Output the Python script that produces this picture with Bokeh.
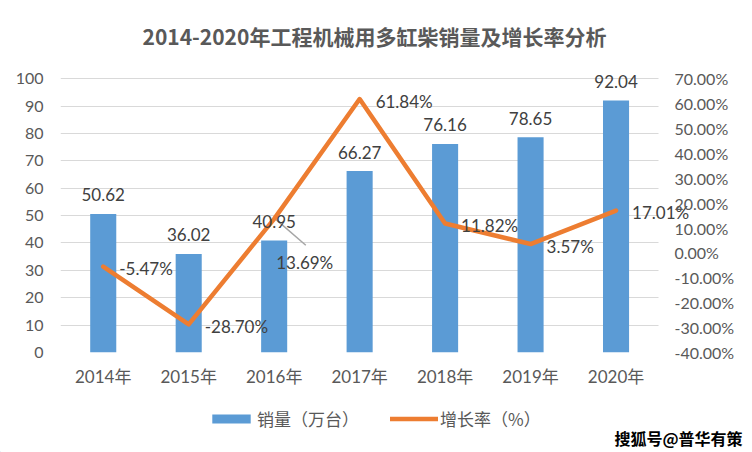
from bokeh.plotting import figure
from bokeh.layouts import column
from bokeh.models import (Range1d, LinearAxis, FixedTicker, PrintfTickFormatter, Grid, Plot,
                          ColumnDataSource, Legend, LegendItem, Label)
from bokeh.core.properties import value
from bokeh.embed import file_html
from bokeh.resources import INLINE

# ---- data ----
years = ["2014年", "2015年", "2016年", "2017年", "2018年", "2019年", "2020年"]
sales = [50.62, 36.02, 40.95, 66.27, 76.16, 78.65, 92.04]
growth = [-5.47, -28.70, 13.69, 61.84, 11.82, 3.57, 17.01]
sales_ticks = [0, 10, 20, 30, 40, 50, 60, 70, 80, 90, 100]
growth_ticks = [-40, -30, -20, -10, 0, 10, 20, 30, 40, 50, 60, 70]

title_text = "2014-2020年工程机械用多缸柴销量及增长率分析"
sales_name = "销量（万台）"
growth_name = "增长率（%）"
watermark_text = "搜狐号@普华有策"

# ---- styles ----
BLUE = "#5B9BD5"
ORANGE = "#ED7D31"
GRID = "#D9D9D9"
AXIS_TXT = "#595959"
LABEL_TXT = "#404040"
NUM_FONT = "Lato"
CJK_FONT = "Noto Sans CJK SC"
MIX_FONT = "Lato, Noto Sans CJK SC"

# label placement (screen px); one growth label was moved with a leader line
rate_dx_default, rate_dy_default = 16, 2
moved_year = "2016年"
moved_dx, moved_dy = 2, 44
leader_dx, leader_dy = 0.37, -10.6

n = len(years)
xs = [i + 0.5 for i in range(n)]           # category centres on a numeric axis
x_end = n + 0.5                            # room on the right for the last label
y_end = 103                                # room on top for the tallest label
pct_start = growth_ticks[0]
pct_per_unit = (growth_ticks[-1] - growth_ticks[0]) / (sales_ticks[-1] - sales_ticks[0])

bar_labels = ["%.2f" % v for v in sales]
rate_labels = ["%.2f%%" % v for v in growth]
rate_dx = [moved_dx if y == moved_year else rate_dx_default for y in years]
rate_dy = [moved_dy if y == moved_year else rate_dy_default for y in years]

src = ColumnDataSource(dict(x=xs, year=years, sales=sales, growth=growth,
                            bar_lbl=bar_labels, rate_lbl=rate_labels,
                            rdx=rate_dx, rdy=rate_dy))

W, H_MAIN, H_LEG = 752, 400, 52

p = figure(width=W, height=H_MAIN, x_range=Range1d(0, x_end), y_range=Range1d(0, y_end),
           output_backend="svg", toolbar_location=None, title=title_text,
           min_border_left=60, min_border_right=51, min_border_top=70, min_border_bottom=48,
           outline_line_color=None, background_fill_color="white", border_fill_color="white")
p.extra_y_ranges = {"pct": Range1d(pct_start, pct_start + pct_per_unit * y_end)}

# title
p.title.align = "left"
p.title.offset = 82
p.title.vertical_align = "middle"
p.title.standoff = 37
p.title.text_font = CJK_FONT
p.title.text_font_style = "bold"
p.title.text_font_size = "21px"
p.title.text_color = AXIS_TXT

# axes
p.yaxis.ticker = FixedTicker(ticks=sales_ticks)
p.xaxis.ticker = FixedTicker(ticks=xs)
p.xaxis.major_label_overrides = {x: y for x, y in zip(xs, years)}
for ax in [p.yaxis[0], p.xaxis[0]]:
    ax.axis_line_color = None
    ax.major_tick_line_color = None
    ax.minor_tick_line_color = None
    ax.major_label_text_color = AXIS_TXT
p.yaxis.major_label_standoff = 11
p.yaxis.major_label_text_font = NUM_FONT
p.yaxis.major_label_text_font_size = "16px"
p.xaxis.major_label_standoff = 7
p.xaxis.major_label_text_font = MIX_FONT
p.xaxis.major_label_text_font_size = "17px"

rax = LinearAxis(y_range_name="pct", ticker=FixedTicker(ticks=growth_ticks),
                 formatter=PrintfTickFormatter(format="%.2f%%"))
rax.axis_line_color = None
rax.major_tick_line_color = None
rax.minor_tick_line_color = None
rax.major_label_standoff = -33
rax.major_label_text_font = NUM_FONT
rax.major_label_text_font_size = "16px"
rax.major_label_text_color = AXIS_TXT
p.add_layout(rax, "right")

p.xgrid.grid_line_color = None
p.ygrid.grid_line_color = GRID
p.ygrid.grid_line_width = 1
if "cross_bounds" in Grid.properties():
    p.ygrid.cross_bounds = (0, n)
else:
    p.ygrid.grid_line_color = None
    p.segment(x0=[0] * len(sales_ticks), x1=[n] * len(sales_ticks),
              y0=sales_ticks, y1=sales_ticks, line_color=GRID, line_width=1)

# bars
bars = p.vbar(x="x", top="sales", width=0.305, source=src, fill_color=BLUE, line_color=None)

# leader line for the moved growth label
mi = years.index(moved_year)
p.segment(x0=[xs[mi] + 0.02], y0=[growth[mi] - 0.2],
          x1=[xs[mi] + leader_dx], y1=[growth[mi] + leader_dy],
          y_range_name="pct", line_color="#A6A6A6", line_width=1.5)

# growth line
line = p.line(x="x", y="growth", source=src, y_range_name="pct",
              line_color=ORANGE, line_width=4.5, line_join="round", line_cap="round")

# data labels
p.text(x="x", y="sales", text="bar_lbl", source=src, y_offset=-19,
       text_align="center", text_baseline="middle", text_font=value(NUM_FONT),
       text_font_size="17px", text_color=LABEL_TXT)
p.text(x="x", y="growth", text="rate_lbl", source=src, y_range_name="pct",
       x_offset="rdx", y_offset="rdy",
       text_align="left", text_baseline="middle", text_font=value(NUM_FONT),
       text_font_size="17px", text_color=LABEL_TXT)

# ---- legend strip below the chart ----
q = figure(width=W, height=H_LEG, x_range=Range1d(0, W), y_range=Range1d(0, H_LEG),
           output_backend="svg", toolbar_location=None, x_axis_type=None, y_axis_type=None,
           min_border_left=0, min_border_right=0, min_border_top=0, min_border_bottom=0,
           outline_line_color=None, background_fill_color="white", border_fill_color="white")
q.xgrid.visible = False
q.ygrid.visible = False
if "frame_align" in Plot.properties():
    p.frame_align = False
    q.frame_align = False
# legend keys: one point each, kept outside the visible strip
key_bar = q.vbar(x=[-50], top=[1], width=1, fill_color=BLUE, line_color=None)
key_line = q.line(x=[-60, -50], y=[1, 1], line_color=ORANGE, line_width=4.5, line_cap="round")
legend = Legend(items=[LegendItem(label=sales_name, renderers=[key_bar]),
                       LegendItem(label=growth_name, renderers=[key_line])],
                orientation="horizontal", location=(207, 21),
                glyph_width=48, glyph_height=11, label_standoff=2, spacing=31,
                padding=0, margin=0, border_line_color=None, background_fill_alpha=0,
                label_text_font=CJK_FONT, label_text_font_size="17px",
                label_text_color=AXIS_TXT, label_height=20)
q.add_layout(legend, "center")
q.add_layout(Label(x=614, y=15, x_units="screen", y_units="screen", text=watermark_text,
                   text_align="left", text_baseline="middle", text_font=CJK_FONT,
                   text_font_style="bold", text_font_size="16px", text_color="black"))

layout = column(p, q, spacing=0)
open("out.html", "w").write(file_html(layout, INLINE))
